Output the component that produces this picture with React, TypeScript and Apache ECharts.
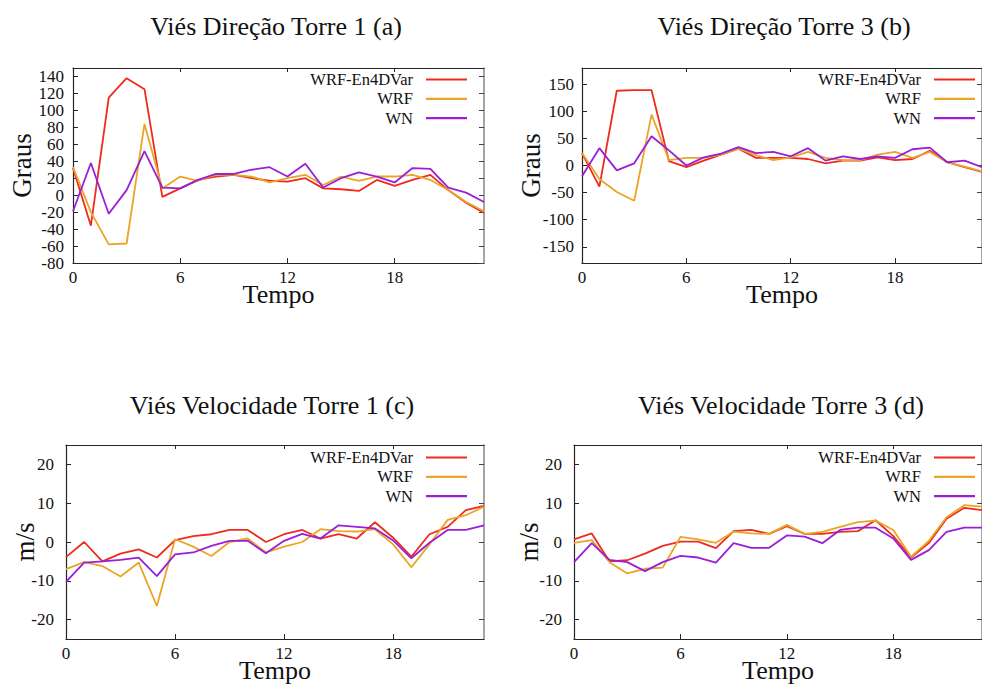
import React, { useEffect, useRef } from 'react';
import * as echarts from 'echarts';

// ---------- data ----------
const hours = [0, 1, 2, 3, 4, 5, 6, 7, 8, 9, 10, 11, 12, 13, 14, 15, 16, 17, 18, 19, 20, 21, 22, 23];
const seriesNames = ['WRF-En4DVar', 'WRF', 'WN'];

// (a) Viés Direção Torre 1
const dirT1En4DVar = [32, -36, 115, 138, 125, -2, 8, 18, 22, 24, 20, 17, 16, 20, 8, 7, 5, 18, 11, 18, 24, 6, -9, -21];
const dirT1WRF = [33, -20, -58, -57, 84, 8, 22, 17, 24, 24, 22, 15, 20, 24, 12, 22, 17, 22, 22, 24, 18, 6, -8, -19];
const dirT1WN = [-19, 38, -22, 6, 52, 9, 8, 18, 25, 25, 30, 33, 22, 37, 9, 20, 27, 22, 15, 32, 31, 9, 3, -8];

// (b) Viés Direção Torre 3
const dirT3En4DVar = [23, -39, 138, 139, 139, 8, -3, 9, 20, 31, 14, 14, 14, 12, 4, 9, 9, 15, 10, 12, 27, 6, -3, -12];
const dirT3WRF = [23, -25, -49, -65, 94, 10, 14, 14, 20, 31, 19, 10, 15, 25, 14, 10, 10, 20, 25, 14, 25, 6, -2, -11];
const dirT3WN = [-20, 32, -9, 4, 54, 28, 0, 15, 22, 34, 23, 25, 17, 32, 9, 17, 12, 17, 14, 30, 33, 6, 9, -3];

// (c) Viés Velocidade Torre 1
const velT1En4DVar = [-3.9, 0, -5, -3, -1.9, -4, 0.5, 1.5, 2, 3.1, 3.1, 0, 2, 3.1, 0.9, 2, 0.9, 5.1, 1.1, -3.8, 2, 3.9, 8.2, 9.3];
const velT1WRF = [-7, -5.2, -6.2, -8.9, -5.3, -16.5, 0.7, -1.2, -3.6, 0, 0.9, -2.7, -1.2, 0, 3.3, 2.8, 2.7, 3.3, -0.6, -6.5, -0.6, 5.7, 6.9, 9.1];
const velT1WN = [-10.3, -5.3, -5, -4.6, -4, -8.8, -3.2, -2.7, -1, 0.3, 0.3, -2.9, 0.3, 2.1, 0.9, 4.3, 3.9, 3.5, 0.4, -4.2, -0.2, 3.1, 3.1, 4.3];

// (d) Viés Velocidade Torre 3
const velT3En4DVar = [0.7, 2.2, -5, -4.7, -3, -1, 0.1, 0.1, -1.6, 2.8, 3.1, 2.1, 4.1, 2.1, 2.1, 2.6, 2.8, 5.6, 1.5, -4, -0.3, 6, 8.8, 8.2];
const velT3WRF = [-0.2, 0.5, -5.2, -8.1, -6.9, -6.6, 1.3, 0.7, -0.2, 2.7, 2.2, 2.1, 4.4, 2.1, 2.6, 3.9, 5.1, 5.5, 3.1, -3.8, 0.3, 6.4, 9.5, 9.1];
const velT3WN = [-5.2, -0.3, -4.6, -5.2, -7.5, -5.2, -3.6, -4, -5.3, -0.3, -1.5, -1.5, 1.7, 1.4, -0.3, 3.1, 3.7, 3.7, 0.9, -4.6, -2.1, 2.6, 3.7, 3.7];

// tick labels
const xTicks = [0, 6, 12, 18];
const yTicksDirT1 = [-80, -60, -40, -20, 0, 20, 40, 60, 80, 100, 120, 140];
const yTicksDirT3 = [-150, -100, -50, 0, 50, 100, 150];
const yTicksVel = [-20, -10, 0, 10, 20];

const titles = [
  'Viés Direção Torre 1 (a)',
  'Viés Direção Torre 3 (b)',
  'Viés Velocidade Torre 1 (c)',
  'Viés Velocidade Torre 3 (d)',
];

// ---------- styles ----------
const FONT = 'Liberation Serif, Times New Roman, serif';
const COLORS = ['#ef2a1f', '#eba526', '#9a1fd6'];
const AXIS_DARK = '#262626';
const AXIS_GRAY = '#8e8e8e';

const panels = [
  {
    title: titles[0], values: [dirT1En4DVar, dirT1WRF, dirT1WN],
    yMin: -80, yMax: 150, yTicks: yTicksDirT1, yName: 'Graus',
    grid: { left: 73, top: 68, width: 411, height: 195 },
    titleX: 276, titleTop: 13, legendRight: 515, legendTop: 71,
    yNameGap: 38, yLabelMargin: 9,
  },
  {
    title: titles[1], values: [dirT3En4DVar, dirT3WRF, dirT3WN],
    yMin: -180, yMax: 180, yTicks: yTicksDirT3, yName: 'Graus',
    grid: { left: 582, top: 68, width: 411, height: 195 },
    titleX: 784, titleTop: 13, legendRight: 7, legendTop: 71,
    yNameGap: 38, yLabelMargin: 8,
  },
  {
    title: titles[2], values: [velT1En4DVar, velT1WRF, velT1WN],
    yMin: -25, yMax: 25, yTicks: yTicksVel, yName: 'm/s',
    grid: { left: 66, top: 445, width: 418, height: 195 },
    titleX: 272, titleTop: 392, legendRight: 515, legendTop: 449,
    yNameGap: 28, yLabelMargin: 12,
  },
  {
    title: titles[3], values: [velT3En4DVar, velT3WRF, velT3WN],
    yMin: -25, yMax: 25, yTicks: yTicksVel, yName: 'm/s',
    grid: { left: 574, top: 445, width: 419, height: 195 },
    titleX: 781, titleTop: 392, legendRight: 7, legendTop: 449,
    yNameGap: 32, yLabelMargin: 12,
  },
];

function buildOption() {
  const grid: any[] = [];
  const xAxis: any[] = [];
  const yAxis: any[] = [];
  const series: any[] = [];
  const title: any[] = [];
  const legend: any[] = [];

  panels.forEach((p, i) => {
    grid.push({ ...p.grid, containLabel: false });
    title.push({
      text: p.title, left: p.titleX, top: p.titleTop, textAlign: 'center', padding: 0,
      textStyle: { fontFamily: FONT, fontSize: 26, fontWeight: 'normal', color: '#111' },
    });
    legend.push({
      data: seriesNames, orient: 'vertical', align: 'right', right: p.legendRight, top: p.legendTop,
      padding: 0, icon: 'rect', itemWidth: 41, itemHeight: 2.2, itemGap: 2.3, selectedMode: false,
      textStyle: { fontFamily: FONT, fontSize: 16.5, color: '#111', lineHeight: 16, padding: [0, 8, 0, 0] },
    });
    // bottom x axis
    xAxis.push({
      type: 'value', gridIndex: i, min: 0, max: 23, position: 'bottom',
      name: 'Tempo', nameLocation: 'middle', nameGap: 18, nameMoveOverlap: false,
      nameTextStyle: { fontFamily: FONT, fontSize: 26, color: '#111' },
      axisLine: { show: true, onZero: false, lineStyle: { color: AXIS_DARK, width: 1.2 } },
      axisTick: { show: true, inside: true, length: 5, customValues: xTicks, lineStyle: { color: AXIS_DARK } },
      axisLabel: { show: true, customValues: xTicks, margin: 6, fontFamily: FONT, fontSize: 17, color: '#111' },
      splitLine: { show: false },
    });
    // top mirror x axis
    xAxis.push({
      type: 'value', gridIndex: i, min: 0, max: 23, position: 'top',
      axisLine: { show: true, onZero: false, lineStyle: { color: AXIS_DARK, width: 1.2 } },
      axisTick: { show: true, inside: true, length: 4, customValues: [6, 12, 18], lineStyle: { color: AXIS_DARK } },
      axisLabel: { show: false },
      splitLine: { show: false },
    });
    // left y axis
    yAxis.push({
      type: 'value', gridIndex: i, min: p.yMin, max: p.yMax, position: 'left',
      name: p.yName, nameLocation: 'middle', nameGap: p.yNameGap, nameRotate: 90, nameMoveOverlap: false,
      nameTextStyle: { fontFamily: FONT, fontSize: 27, color: '#111' },
      axisLine: { show: true, onZero: false, lineStyle: { color: AXIS_DARK, width: 1.2 } },
      axisTick: { show: true, inside: true, length: 5, customValues: p.yTicks, lineStyle: { color: AXIS_DARK } },
      axisLabel: { show: true, customValues: p.yTicks, margin: p.yLabelMargin, fontFamily: FONT, fontSize: 17, color: '#111' },
      splitLine: { show: false },
    });
    // right mirror y axis
    yAxis.push({
      type: 'value', gridIndex: i, min: p.yMin, max: p.yMax, position: 'right',
      axisLine: { show: true, onZero: false, lineStyle: { color: AXIS_GRAY, width: 1.6 } },
      axisTick: { show: true, inside: true, length: 5, customValues: p.yTicks, lineStyle: { color: '#444' } },
      axisLabel: { show: false },
      splitLine: { show: false },
    });

    p.values.forEach((vals, k) => {
      series.push({
        type: 'line', name: seriesNames[k], xAxisIndex: i * 2, yAxisIndex: i * 2,
        data: hours.map((h, j) => [h, vals[j]]),
        symbol: 'none', showSymbol: false, smooth: false,
        lineStyle: { color: COLORS[k], width: 1.8 },
        itemStyle: { color: COLORS[k] },
        z: 2 + k,
      });
    });
  });

  return {
    animation: false,
    backgroundColor: '#ffffff',
    color: COLORS,
    textStyle: { fontFamily: FONT },
    title, legend, grid, xAxis, yAxis, series,
  };
}

export default function App() {
  const ref = useRef<HTMLDivElement>(null);
  useEffect(() => {
    if (!ref.current) return;
    const chart = echarts.init(ref.current, null, { renderer: 'svg' });
    chart.setOption(buildOption() as any);
    return () => chart.dispose();
  }, []);
  return (
    <div
      ref={ref}
      style={{ position: 'fixed', left: 0, top: 0, width: 982, height: 684, background: '#fff' }}
    />
  );
}
